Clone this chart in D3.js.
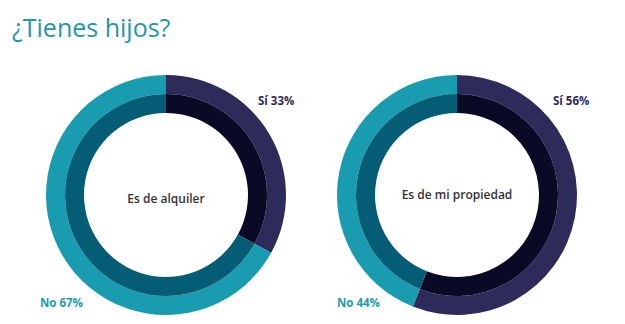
<!DOCTYPE html>
<html>
<head>
<meta charset="utf-8">
<script src="https://cdn.jsdelivr.net/npm/d3@7"></script>
<style>
  html, body { margin: 0; padding: 0; background: #fff; }
  svg { display: block; }
</style>
</head>
<body>
<svg id="chart" width="625" height="324"></svg>
<script>
// Survey answers: share of respondents with children, by housing type
const charts = ["Es de alquiler", "Es de mi propiedad"];
const answers = ["Sí", "No"];
const siValues = [33, 56];
const noValues = [67, 44];

const outerColors = { "Sí": "#2e2b5a", "No": "#1a9cb0" };
const innerColors = { "Sí": "#0b0a26", "No": "#045d74" };
const labelColors = { "Sí": "#2e2b5a", "No": "#1a9cb0" };

const svg = d3.select("#chart");

svg.append("text")
  .attr("x", 12).attr("y", 37)
  .attr("font-family", "Open Sans, sans-serif")
  .attr("font-size", 25)
  .attr("fill", "#2596a8")
  .text("¿Tienes hijos?");

const centers = [[166, 195], [457, 195]];
const rInner = 82, rMid = 101, rOuter = 120;

const pie = d3.pie().sort(null).value(d => d.value);
const outerArc = d3.arc().innerRadius(rMid).outerRadius(rOuter);
const innerArc = d3.arc().innerRadius(rInner).outerRadius(rMid);

charts.forEach((name, i) => {
  const data = answers.map((a, k) => ({ key: a, value: k === 0 ? siValues[i] : noValues[i] }));
  const arcs = pie(data);
  const g = svg.append("g").attr("transform", `translate(${centers[i][0]},${centers[i][1]})`);

  g.selectAll("path.outer").data(arcs).join("path")
    .attr("class", "outer")
    .attr("d", outerArc)
    .attr("fill", d => outerColors[d.data.key]);

  g.selectAll("path.inner").data(arcs).join("path")
    .attr("class", "inner")
    .attr("d", innerArc)
    .attr("fill", d => innerColors[d.data.key]);

  g.append("text")
    .attr("x", 0).attr("y", i === 0 ? 8 : 4)
    .attr("text-anchor", "middle")
    .attr("font-family", "Open Sans, sans-serif")
    .attr("font-weight", 600)
    .attr("font-size", 12)
    .attr("fill", "#333")
    .text(name);

  // Answer labels: "Sí" top-right, "No" bottom-left
  const siX = i === 0 ? 92 : 96;
  g.append("text")
    .attr("x", siX).attr("y", -90)
    .attr("font-family", "Open Sans, sans-serif")
    .attr("font-weight", 700)
    .attr("font-size", 11.5)
    .attr("fill", labelColors["Sí"])
    .text(`Sí ${siValues[i]}%`);

  g.append("text")
    .attr("x", i === 0 ? -126 : -120).attr("y", 112)
    .attr("font-family", "Open Sans, sans-serif")
    .attr("font-weight", 700)
    .attr("font-size", 11.5)
    .attr("fill", labelColors["No"])
    .text(`No ${noValues[i]}%`);
});
</script>
</body>
</html>
